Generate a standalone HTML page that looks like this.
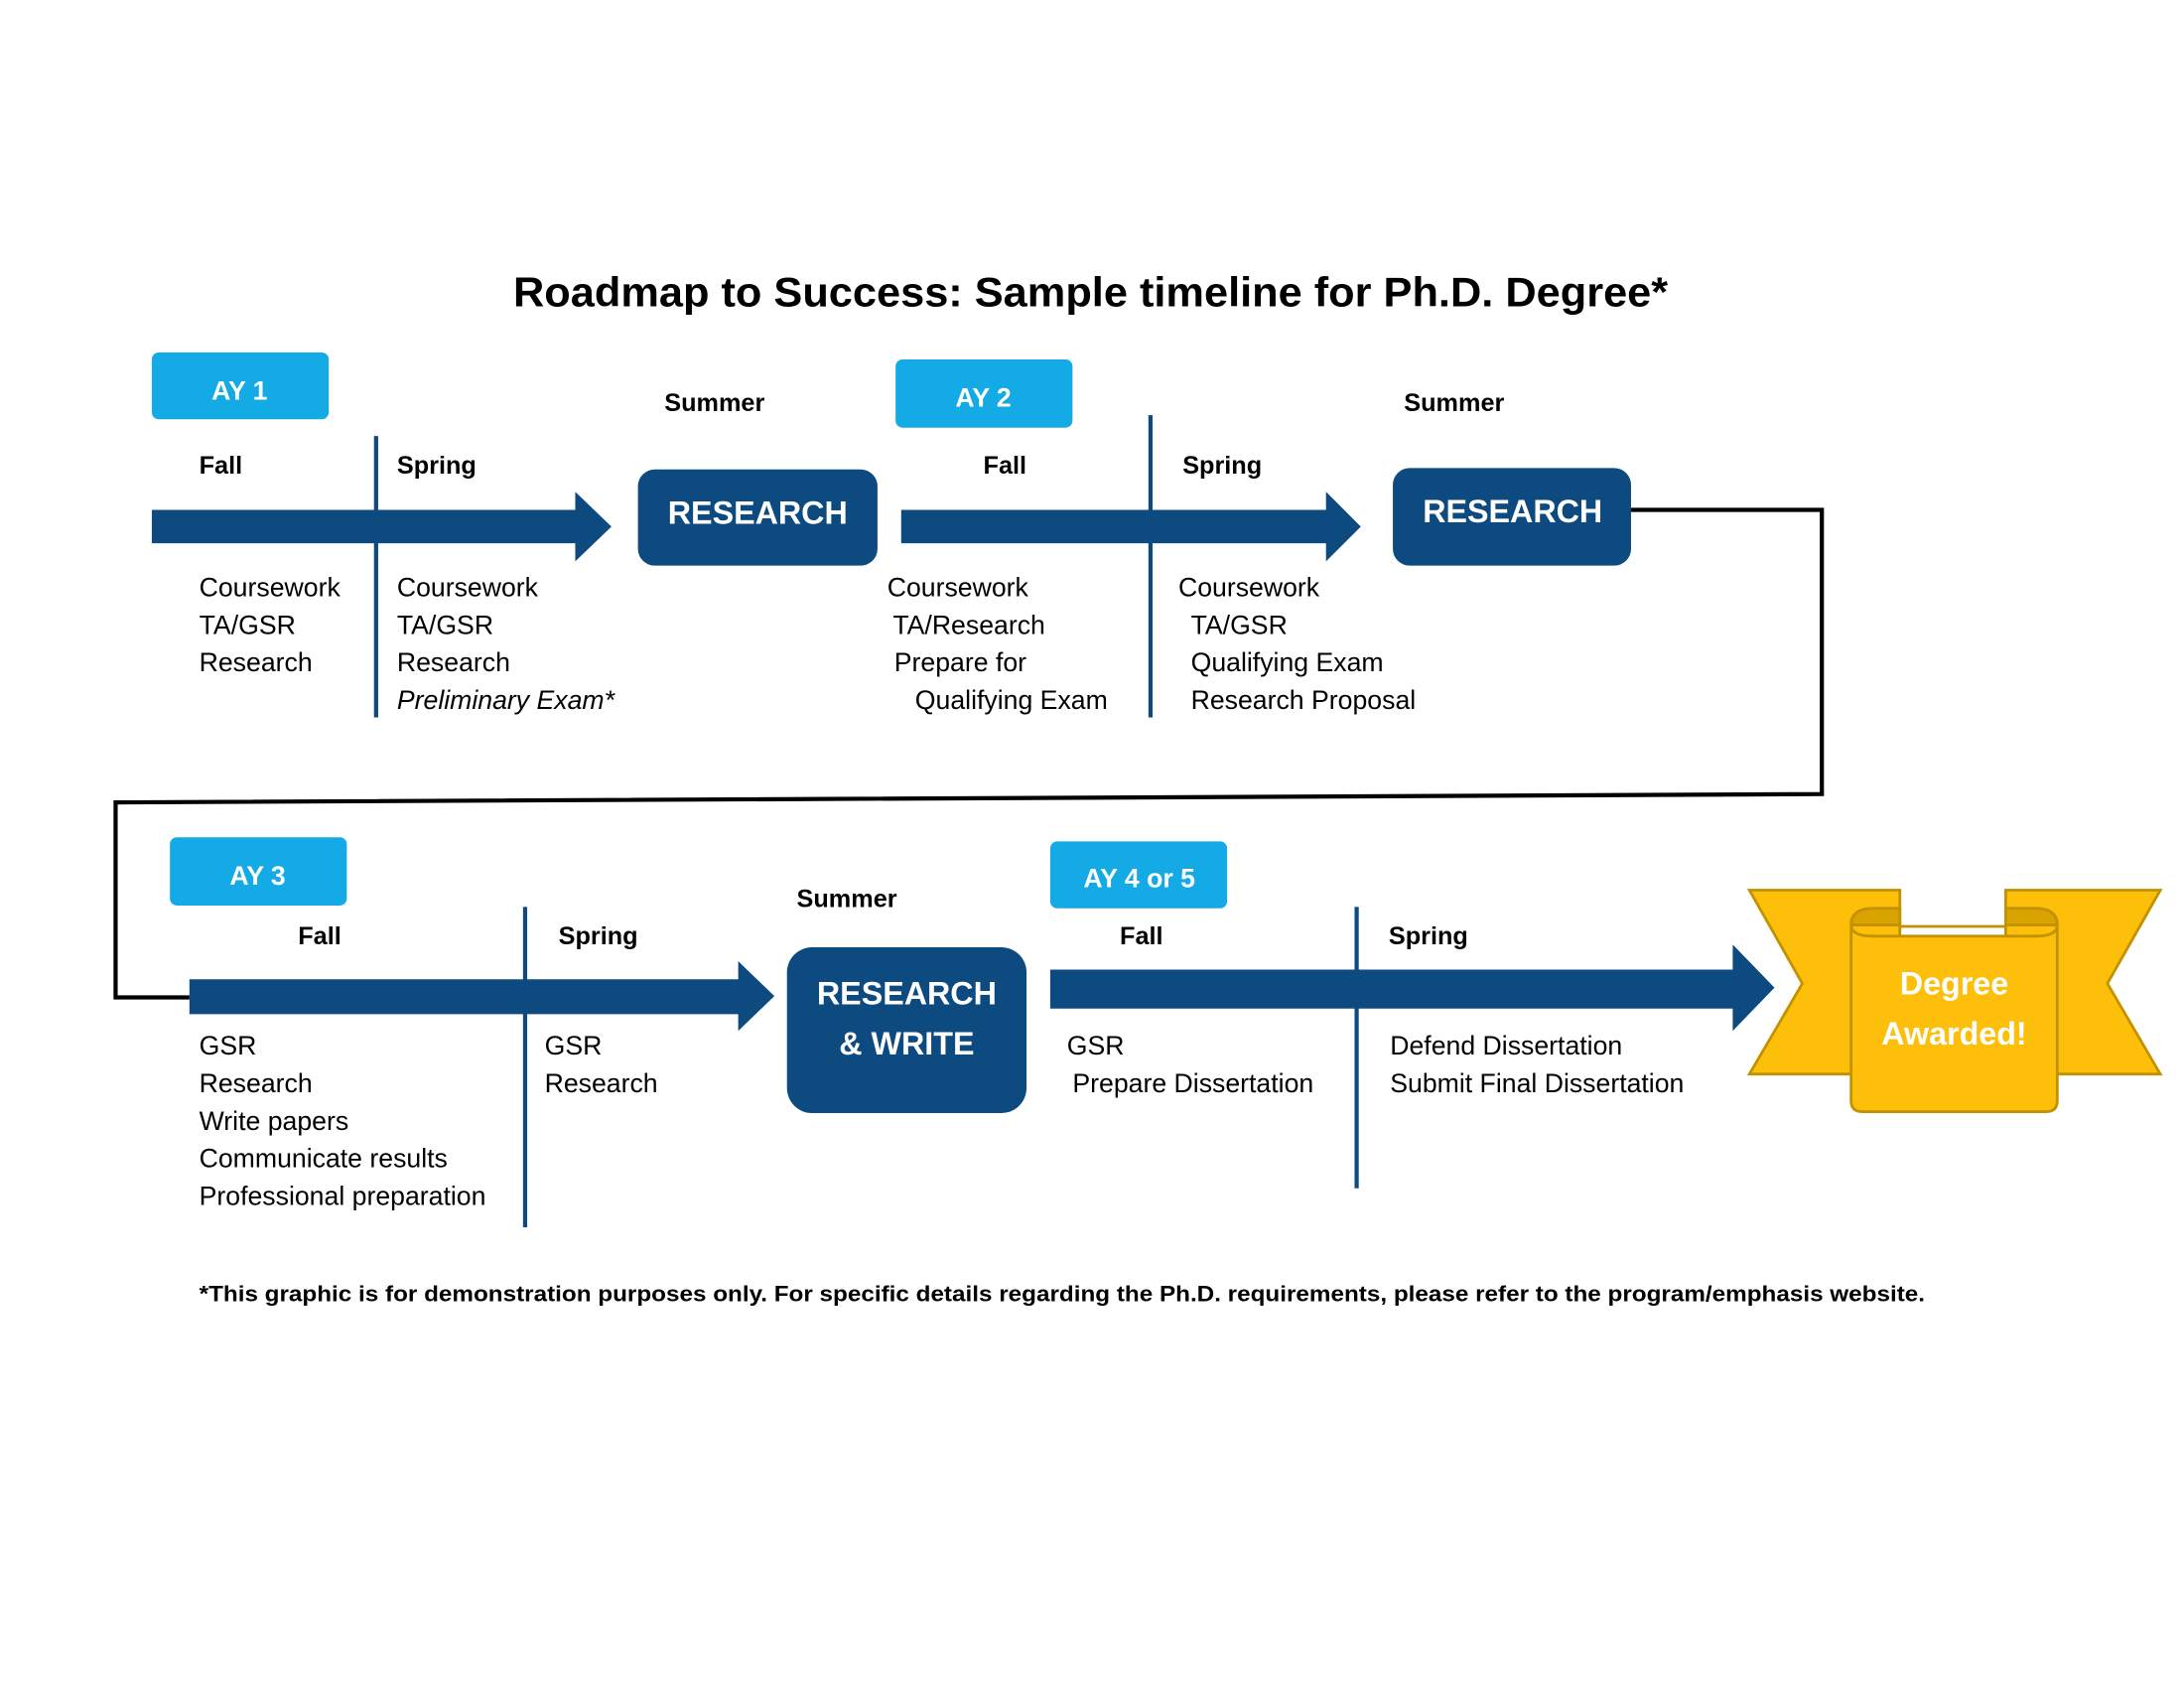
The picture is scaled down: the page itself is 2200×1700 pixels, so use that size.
<!DOCTYPE html>
<html><head><meta charset="utf-8"><style>html,body{margin:0;padding:0;background:#fff}svg{display:block}</style></head>
<body>
<svg width="2200" height="1700" viewBox="0 0 1568 1211.7" preserveAspectRatio="none" xmlns="http://www.w3.org/2000/svg" font-family="Liberation Sans, sans-serif">
<rect width="1568" height="1212" fill="#fff"/>
<text x="783" y="220" font-size="30" font-weight="bold" text-anchor="middle" textLength="829" lengthAdjust="spacingAndGlyphs">Roadmap to Success: Sample timeline for Ph.D. Degree*</text>

<g fill="#14aae6">
<rect x="109" y="253" width="127" height="48" rx="5"/>
<rect x="643" y="258" width="127" height="49" rx="5"/>
<rect x="122" y="601" width="127" height="49" rx="5"/>
<rect x="754" y="604" width="127" height="48" rx="5"/>
</g>
<g fill="#fff" font-size="19" font-weight="bold" text-anchor="middle">
<text x="172" y="287">AY 1</text>
<text x="706" y="292">AY 2</text>
<text x="185" y="635">AY 3</text>
<text x="818" y="637">AY 4 or 5</text>
</g>

<g fill="#0d4a80">
<polygon points="109,366 413,366 413,353 439,378 413,403 413,390 109,390"/>
<polygon points="647,366 952,366 952,353 977,378 952,403 952,390 647,390"/>
<polygon points="136,703 530,703 530,690 556,715 530,740 530,728 136,728"/>
<polygon points="754,696 1244,696 1244,678 1274,709 1244,740 1244,724 754,724"/>
<rect x="458" y="337" width="172" height="69" rx="12"/>
<rect x="1000" y="336" width="171" height="70" rx="12"/>
<rect x="565" y="680" width="172" height="119" rx="18"/>
<rect x="268.5" y="313" width="3" height="202"/>
<rect x="824.5" y="298" width="3" height="217"/>
<rect x="375.5" y="651" width="3" height="230"/>
<rect x="972.5" y="651" width="3" height="202"/>
</g>
<g fill="#fff" font-size="23" font-weight="bold" text-anchor="middle">
<text x="544" y="376">RESEARCH</text>
<text x="1086" y="375">RESEARCH</text>
<text x="651" y="721">RESEARCH</text>
<text x="651" y="757">&amp; WRITE</text>
</g>

<polyline points="1171,366 1308,366 1308,570 83,576 83,716 136,716" fill="none" stroke="#000" stroke-width="3"/>

<g font-size="18" font-weight="bold" fill="#000">
<text x="143" y="340">Fall</text>
<text x="285" y="340">Spring</text>
<text x="477" y="295">Summer</text>
<text x="706" y="340">Fall</text>
<text x="849" y="340">Spring</text>
<text x="1008" y="295">Summer</text>
<text x="214" y="678">Fall</text>
<text x="401" y="678">Spring</text>
<text x="572" y="651">Summer</text>
<text x="804" y="678">Fall</text>
<text x="997" y="678">Spring</text>
</g>

<g font-size="19" fill="#000">
<text x="143" y="428">Coursework</text>
<text x="143" y="455">TA/GSR</text>
<text x="143" y="482">Research</text>
<text x="285" y="428">Coursework</text>
<text x="285" y="455">TA/GSR</text>
<text x="285" y="482">Research</text>
<text x="285" y="509" font-style="italic">Preliminary Exam*</text>
<text x="637" y="428">Coursework</text>
<text x="641" y="455">TA/Research</text>
<text x="642" y="482">Prepare for</text>
<text x="657" y="509">Qualifying Exam</text>
<text x="846" y="428">Coursework</text>
<text x="855" y="455">TA/GSR</text>
<text x="855" y="482">Qualifying Exam</text>
<text x="855" y="509">Research Proposal</text>
<text x="143" y="757">GSR</text>
<text x="143" y="784">Research</text>
<text x="143" y="811">Write papers</text>
<text x="143" y="838">Communicate results</text>
<text x="143" y="865">Professional preparation</text>
<text x="391" y="757">GSR</text>
<text x="391" y="784">Research</text>
<text x="766" y="757">GSR</text>
<text x="770" y="784">Prepare Dissertation</text>
<text x="998" y="757">Defend Dissertation</text>
<text x="998" y="784">Submit Final Dissertation</text>
</g>

<g stroke="#c29300" stroke-width="2" fill="#fdbf0a">
<polygon points="1256,639 1364,639 1364,771 1256,771 1294,706"/>
<polygon points="1551,639 1440,639 1440,771 1551,771 1513,706"/>
<path d="M1329,664 Q1329,652 1345,652 L1364,652 L1364,664 Z" fill="#d9a300"/>
<path d="M1477,664 Q1477,652 1461,652 L1440,652 L1440,664 Z" fill="#d9a300"/>
<path d="M1329,664 L1329,790 Q1329,798 1337,798 L1469,798 Q1477,798 1477,790 L1477,664 Q1477,672 1461,672 L1345,672 Q1329,672 1329,664 Z"/>
<rect x="1364" y="664" width="76" height="2" fill="#c29300" stroke="none"/>
</g>
<g fill="#fff" font-size="23" font-weight="bold" text-anchor="middle">
<text x="1403" y="714">Degree</text>
<text x="1403" y="750">Awarded!</text>
</g>

<text x="143" y="934" font-size="16" font-weight="bold" textLength="1239" lengthAdjust="spacingAndGlyphs">*This graphic is for demonstration purposes only. For specific details regarding the Ph.D. requirements, please refer to the program/emphasis website.</text>
</svg>
</body></html>
